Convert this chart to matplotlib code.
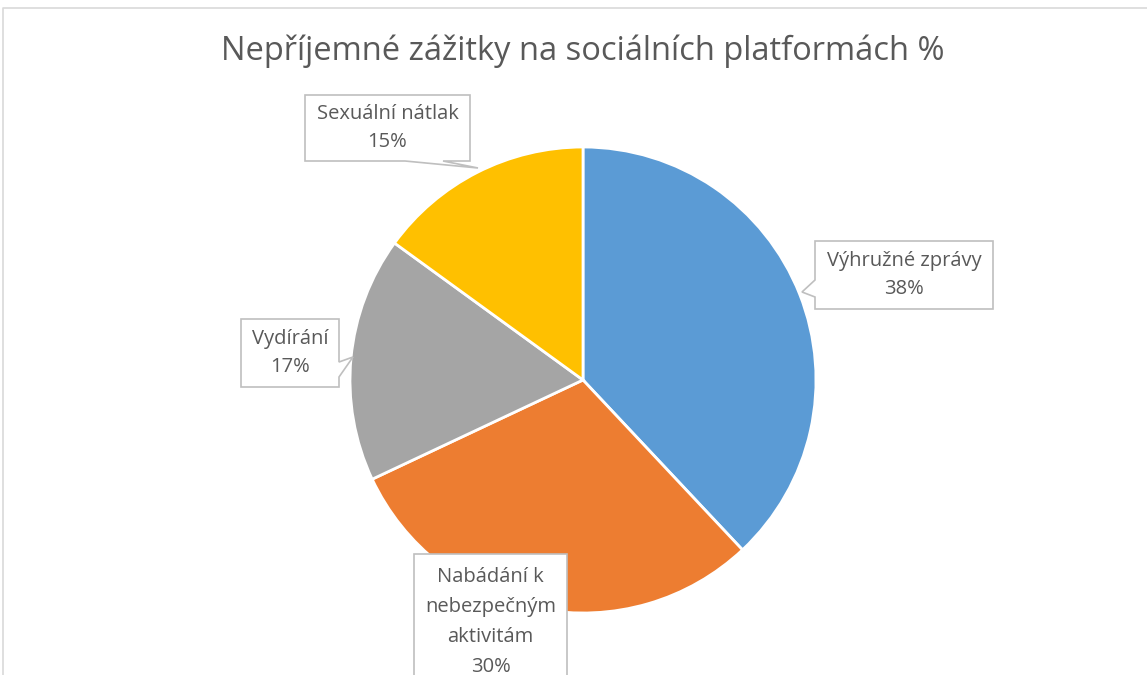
import matplotlib
matplotlib.use('Agg')
import matplotlib.pyplot as plt
from matplotlib.patches import Polygon

plt.rcParams['font.family'] = ['Open Sans', 'DejaVu Sans']

# data
categories = ['Výhružné zprávy', 'Nabádání k\nnebezpečným\naktivitám', 'Vydírání', 'Sexuální nátlak']
values = [38, 30, 17, 15]
colors = ['#5B9BD5', '#ED7D31', '#A5A5A5', '#FFC000']
title = 'Nepříjemné zážitky na sociálních platformách %'

W, H = 1147, 675
text_col = '#595959'
edge_col = '#BFBFBF'

fig = plt.figure(figsize=(W / 100, H / 100), dpi=100)
ax = fig.add_axes([0, 0, 1, 1])


def py(y):
    # image y (top down) -> axes y
    return H - y


ax.pie(values, colors=colors, startangle=90, counterclock=False,
       center=(583, py(380)), radius=233,
       wedgeprops=dict(edgecolor='white', linewidth=2))

# pie() resets the limits, so set them afterwards
ax.set_xlim(0, W)
ax.set_ylim(0, H)
ax.set_aspect('equal')
ax.axis('off')

# chart border
ax.plot([3, 3, W + 5], [py(H + 5), py(8), py(8)], color='#D9D9D9', lw=1.2)

ax.text(583, py(51), title, ha='center', va='center', fontsize=23.5, color=text_col)

# callout boxes: (x0, y0, x1, y1) in image px, tail (side, base a, base b, tip)
layout = [
    ((815, 241, 993, 309), ('left', 280, 297, (802, 292))),
    ((414, 554, 567, 700), None),
    ((241, 319, 339, 387), ('right', 362, 377, (353, 357))),
    ((305, 95, 470, 161), ('bottom', 405, 443, (478, 168))),
]

for cat, val, (box, tail) in zip(categories, values, layout):
    x0, y0, x1, y1 = box
    tl, tr, br, bl = (x0, y0), (x1, y0), (x1, y1), (x0, y1)
    if tail is None:
        pts = [tl, tr, br, bl]
    else:
        side, a, b, tip = tail
        if side == 'left':
            pts = [tl, tr, br, bl, (x0, b), tip, (x0, a)]
        elif side == 'right':
            pts = [tl, tr, (x1, a), tip, (x1, b), br, bl]
        else:
            pts = [tl, tr, br, (b, y1), tip, (a, y1), bl]
    poly = Polygon([(x, py(y)) for x, y in pts], closed=True,
                   facecolor='white', edgecolor=edge_col, lw=1.2, zorder=5)
    ax.add_patch(poly)
    lines = cat.split('\n') + [f'{val}%']
    cx = (x0 + x1) / 2
    if tail is None:
        ys = [577 + 30 * i for i in range(len(lines))]
    else:
        cy = (y0 + y1) / 2
        ys = [cy - 14, cy + 14]
    for line, y in zip(lines, ys):
        ax.text(cx, py(y), line, ha='center', va='center', fontsize=14.5,
                color=text_col, zorder=6)

fig.savefig('out.png', dpi=100, facecolor='white')
